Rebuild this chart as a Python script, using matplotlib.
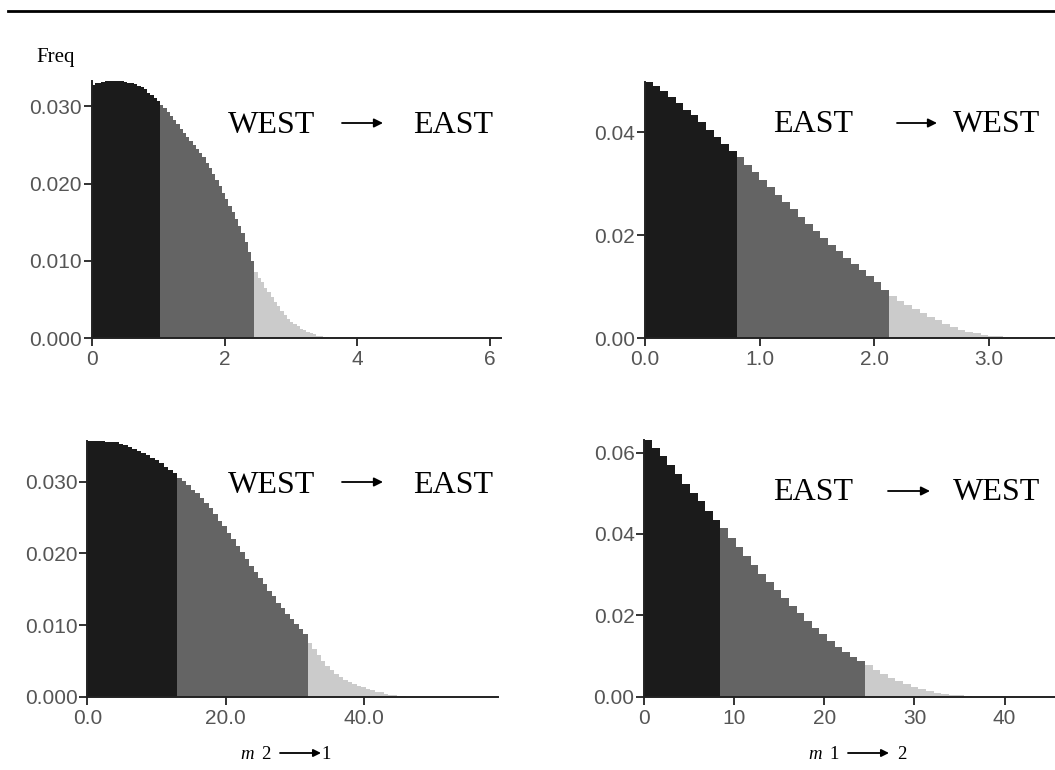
import numpy as np
import matplotlib
matplotlib.use("Agg")
import matplotlib.pyplot as plt
from matplotlib.lines import Line2D
from matplotlib.patches import FancyArrowPatch

W, H = 1055, 770

# ---- data (bin frequencies) ----
tl_width = 0.049
tl_cuts = (21, 50)
tl_freq = [0.0328, 0.0330, 0.0331, 0.0332, 0.0333, 0.0333, 0.0333, 0.0333, 0.0333, 0.0333,
           0.0332, 0.0331, 0.0330, 0.0329, 0.0327, 0.0325, 0.0322, 0.0318, 0.0315, 0.0311,
           0.0307,
           0.0302, 0.0298, 0.0293, 0.0288, 0.0283, 0.0277, 0.0271, 0.0265, 0.0260, 0.0255,
           0.0250, 0.0245, 0.0240, 0.0234, 0.0227, 0.0220, 0.0213, 0.0205, 0.0197, 0.0188,
           0.0180, 0.0171, 0.0163, 0.0154, 0.0145, 0.0136, 0.0124, 0.0112, 0.0100,
           0.0085, 0.0078, 0.0072, 0.0065, 0.0059, 0.0053, 0.0047, 0.0041, 0.0035, 0.0030,
           0.0025, 0.0021, 0.0018, 0.0015, 0.0012, 0.0010, 0.0008, 0.0006, 0.0005, 0.0003,
           0.0002, 0.0001, 0.0001]
tl_xticks = [0, 2, 4, 6]
tl_xlabels = ["0", "2", "4", "6"]
tl_yticks = [0.0, 0.01, 0.02, 0.03]
tl_ylabels = ["0.000", "0.010", "0.020", "0.030"]

tr_width = 0.0665
tr_cuts = (12, 32)
tr_freq = [0.0498, 0.0490, 0.0479, 0.0469, 0.0456, 0.0443, 0.0433, 0.0420, 0.0404, 0.0391,
           0.0378, 0.0364,
           0.0352, 0.0337, 0.0323, 0.0308, 0.0294, 0.0279, 0.0264, 0.0250, 0.0236, 0.0222,
           0.0208, 0.0195, 0.0182, 0.0169, 0.0156, 0.0144, 0.0132, 0.0121, 0.0109, 0.0094,
           0.0082, 0.0072, 0.0064, 0.0056, 0.0049, 0.0042, 0.0035, 0.0028, 0.0022, 0.0017,
           0.0013, 0.0010, 0.0007, 0.0005, 0.0004, 0.0003, 0.0002, 0.0001]
tr_xticks = [0, 1, 2, 3]
tr_xlabels = ["0.0", "1.0", "2.0", "3.0"]
tr_yticks = [0.0, 0.02, 0.04]
tr_ylabels = ["0.00", "0.02", "0.04"]

bl_width = 0.65
bl_cuts = (20, 49)
bl_freq = [0.0357, 0.0357, 0.0357, 0.0357, 0.0356, 0.0356, 0.0355, 0.0353, 0.0351, 0.0349,
           0.0346, 0.0343, 0.0340, 0.0337, 0.0333, 0.0330, 0.0326, 0.0321, 0.0317, 0.0312,
           0.0306, 0.0301, 0.0295, 0.0289, 0.0284, 0.0278, 0.0271, 0.0263, 0.0255, 0.0246,
           0.0238, 0.0229, 0.0220, 0.0211, 0.0202, 0.0192, 0.0183, 0.0174, 0.0166, 0.0157,
           0.0148, 0.0140, 0.0131, 0.0124, 0.0116, 0.0109, 0.0102, 0.0095, 0.0088,
           0.0075, 0.0066, 0.0058, 0.0050, 0.0043, 0.0037, 0.0032, 0.0028, 0.0024, 0.0021,
           0.0018, 0.0015, 0.0013, 0.0011, 0.0009, 0.0007, 0.0006, 0.0004, 0.0003, 0.0002,
           0.0001, 0.0001]
bl_xticks = [0, 20, 40]
bl_xlabels = ["0.0", "20.0", "40.0"]
bl_yticks = [0.0, 0.01, 0.02, 0.03]
bl_ylabels = ["0.000", "0.010", "0.020", "0.030"]

br_width = 0.845
br_cuts = (10, 29)
br_freq = [0.0631, 0.0612, 0.0592, 0.0570, 0.0547, 0.0522, 0.0500, 0.0480, 0.0457, 0.0434,
           0.0414, 0.0391, 0.0367, 0.0345, 0.0323, 0.0302, 0.0282, 0.0262, 0.0242, 0.0223,
           0.0205, 0.0187, 0.0170, 0.0153, 0.0137, 0.0123, 0.0110, 0.0098, 0.0088,
           0.0077, 0.0066, 0.0056, 0.0047, 0.0039, 0.0031, 0.0025, 0.0019, 0.0014, 0.0010,
           0.0007, 0.0005, 0.0003, 0.0002]
br_xticks = [0, 10, 20, 30, 40]
br_xlabels = ["0", "10", "20", "30", "40"]
br_yticks = [0.0, 0.02, 0.04, 0.06]
br_ylabels = ["0.00", "0.02", "0.04", "0.06"]

SHADES = ["#1b1b1b", "#646464", "#cbcbcb"]
TICK_FONT = "Liberation Sans"
SERIF = "Liberation Serif"


def fx(x):
    return x / W


def fy(y):
    return 1 - y / H


def panel(left, right, y0, ytop, freq, width, cuts, xmax,
          xticks, xlabels, yticks, ylabels):
    ax = fig.add_axes([fx(left), fy(y0), (right - left) / W, (y0 - ytop) / H])
    freq = np.asarray(freq)
    edges = np.arange(len(freq) + 1) * width
    bounds = [0, cuts[0], cuts[1], len(freq)]
    for k in range(3):
        a, b = bounds[k], bounds[k + 1]
        ax.stairs(freq[a:b], edges[a:b + 1], fill=True, color=SHADES[k], lw=0)
    ymax = freq.max()
    ax.set_xlim(0, xmax)
    ax.set_ylim(0, ymax)
    for s in ["top", "right"]:
        ax.spines[s].set_visible(False)
    for s in ["left", "bottom"]:
        ax.spines[s].set_linewidth(1.4)
        ax.spines[s].set_color("#222222")
    ax.spines["left"].set_bounds(0, ymax)
    ax.set_xticks(xticks)
    ax.set_xticklabels(xlabels)
    ax.set_yticks(yticks)
    ax.set_yticklabels(ylabels)
    ax.tick_params(axis="both", direction="out", length=5.5, width=1.3,
                   color="#222222", labelcolor="#555555", labelsize=15)
    ax.tick_params(axis="x", pad=3)
    ax.tick_params(axis="y", pad=1.5)
    for lab in ax.get_xticklabels() + ax.get_yticklabels():
        lab.set_fontfamily(TICK_FONT)
    ax.patch.set_alpha(0)
    return ax


def arrow(x1, x2, y, lw=1.3, scale=13):
    fig.add_artist(FancyArrowPatch((fx(x1), fy(y)), (fx(x2), fy(y)),
                                   transform=fig.transFigure, arrowstyle="-|>",
                                   mutation_scale=scale, lw=lw, color="black",
                                   shrinkA=0, shrinkB=0))


def direction(left_word, right_word, x_left, x_arrow1, x_arrow2, x_right, base, y_arrow):
    fig.text(fx(x_left), fy(base), left_word, family=SERIF, fontsize=23,
             ha="left", va="baseline")
    fig.text(fx(x_right), fy(base), right_word, family=SERIF, fontsize=23,
             ha="left", va="baseline")
    arrow(x_arrow1, x_arrow2, y_arrow)


fig = plt.figure(figsize=(W / 100, H / 100), dpi=100)

# rule across the top
fig.add_artist(Line2D([fx(8), fx(W)], [fy(10.5), fy(10.5)], color="black", lw=2,
                      transform=fig.transFigure))

panel(91.7, 501.4, 338.0, 81.0, tl_freq, tl_width, tl_cuts, 6.17,
      tl_xticks, tl_xlabels, tl_yticks, tl_ylabels)
panel(645.0, 1055.0, 338.3, 81.7, tr_freq, tr_width, tr_cuts, 3.575,
      tr_xticks, tr_xlabels, tr_yticks, tr_ylabels)
panel(87.3, 498.0, 696.7, 441.0, bl_freq, bl_width, bl_cuts, 59.4,
      bl_xticks, bl_xlabels, bl_yticks, bl_ylabels)
panel(644.3, 1055.0, 696.7, 440.0, br_freq, br_width, br_cuts, 45.6,
      br_xticks, br_xlabels, br_yticks, br_ylabels)

fig.text(fx(36), fy(62), "Freq", family=SERIF, fontsize=15, ha="left", va="baseline")

direction("WEST", "EAST", 228, 342, 383, 413, 133, 123)
direction("EAST", "WEST", 773, 897, 937, 953, 132, 123)
direction("WEST", "EAST", 228, 342, 383, 413, 493, 482)
direction("EAST", "WEST", 773, 888, 930, 953, 500, 491)

# axis captions under the bottom panels
fig.text(fx(240), fy(759), "m", family=SERIF, style="italic", fontsize=13.5,
         ha="left", va="baseline")
fig.text(fx(261), fy(759), "2", family=SERIF, fontsize=13.5, ha="left", va="baseline")
arrow(280, 321, 753, lw=1.3, scale=11)
fig.text(fx(321), fy(759), "1", family=SERIF, fontsize=13.5, ha="left", va="baseline")

fig.text(fx(808), fy(759), "m", family=SERIF, style="italic", fontsize=13.5,
         ha="left", va="baseline")
fig.text(fx(829), fy(759), "1", family=SERIF, fontsize=13.5, ha="left", va="baseline")
arrow(848, 889, 753, lw=1.3, scale=11)
fig.text(fx(897), fy(759), "2", family=SERIF, fontsize=13.5, ha="left", va="baseline")

fig.savefig("out.png", dpi=100)
